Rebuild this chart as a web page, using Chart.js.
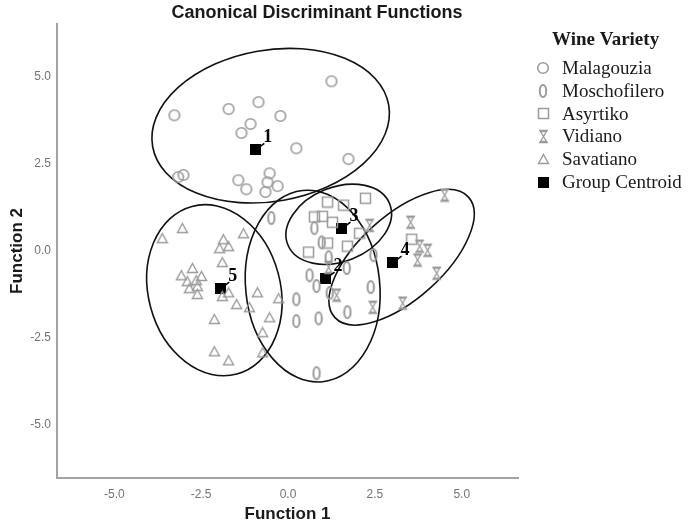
<!DOCTYPE html>
<html>
<head>
<meta charset="utf-8">
<script src="https://cdn.jsdelivr.net/npm/chart.js@4/dist/chart.umd.min.js"></script>
<style>
  html, body { margin: 0; padding: 0; background: #fff; }
  #wrap { width: 688px; height: 528px; }
</style>
</head>
<body>
<div id="wrap"><canvas id="cdf" width="688" height="528"></canvas></div>
<script>
'use strict';

/* ── data (function 1, function 2) ─────────── */
const seriesNames = ['Malagouzia', 'Moschofilero', 'Asyrtiko', 'Vidiano', 'Savatiano', 'Group Centroid'];

const malagouzia = [
  [-3.27, 3.90], [-1.71, 4.08], [-0.85, 4.28], [-0.22, 3.88], [1.25, 4.88],
  [-1.08, 3.65], [-1.34, 3.39], [0.24, 2.95], [1.74, 2.64], [-3.16, 2.12],
  [-3.01, 2.18], [-1.43, 2.03], [-1.20, 1.77], [-0.53, 2.23], [-0.59, 1.97],
  [-0.30, 1.86], [-0.65, 1.69],
];
const moschofilero = [
  [-0.48, 0.94], [0.76, 0.65], [0.97, 0.24], [1.17, -0.19], [0.62, -0.71],
  [0.82, -1.02], [1.69, -0.50], [1.20, -1.22], [0.24, -1.40], [0.24, -2.03],
  [0.88, -1.95], [1.71, -1.77], [2.38, -1.05], [2.46, -0.13], [0.82, -3.53],
];
const asyrtiko = [
  [2.23, 1.51], [1.14, 1.40], [1.60, 1.31], [0.76, 0.97], [0.99, 0.99],
  [1.28, 0.82], [2.06, 0.50], [1.14, 0.22], [1.71, 0.13], [0.59, -0.04],
  [3.56, 0.33],
];
const vidiano = [
  [4.51, 1.60], [3.53, 0.82], [2.35, 0.73], [3.79, 0.13], [4.02, 0.01],
  [3.73, -0.27], [4.28, -0.65], [3.30, -1.51], [2.44, -1.63], [1.40, -1.28],
  [1.17, -0.48],
];
const savatiano = [
  [-3.04, 0.65], [-3.62, 0.36], [-1.28, 0.50], [-1.86, 0.33], [-1.97, 0.07],
  [-1.71, 0.13], [-1.89, -0.33], [-2.75, -0.50], [-3.07, -0.71], [-2.49, -0.73],
  [-2.90, -0.88], [-2.64, -0.85], [-2.61, -1.02], [-2.84, -1.08], [-2.61, -1.25],
  [-1.89, -1.31], [-1.71, -1.20], [-0.88, -1.20], [-1.48, -1.54], [-1.11, -1.63],
  [-2.12, -1.97], [-0.53, -1.92], [-0.27, -1.37], [-0.73, -2.35], [-2.12, -2.90],
  [-1.71, -3.16], [-0.73, -2.93],
];
const centroids      = [[-0.94, 2.92], [1.08, -0.79], [1.54, 0.65], [3.01, -0.33], [-1.95, -1.08]];
const centroidLabels = ['1', '2', '3', '4', '5'];

// group ellipses: centre, semi-axes (function units), tilt in degrees
const ellipseCx    = [-0.50, 0.71, 1.46, 3.27, -2.12];
const ellipseCy    = [3.60, -1.02, 0.76, -0.19, -1.14];
const ellipseA     = [3.45, 2.77, 1.58, 2.59, 2.50];
const ellipseB     = [2.18, 1.93, 1.07, 1.21, 1.90];
const ellipseAngle = [10, 96, 22, 42, 105];

const xTicks = [-5, -2.5, 0, 2.5, 5];
const yTicks = [-5, -2.5, 0, 2.5, 5];

/* ── symbols ───────────────────────────────── */
const GREY = '#9b9b9b';
function makeSymbol(w, h, draw) {
  const c = document.createElement('canvas');
  c.width = w; c.height = h;
  const g = c.getContext('2d');
  g.strokeStyle = GREY; g.fillStyle = GREY; g.lineWidth = 1.5;
  draw(g, w, h);
  return c;
}
const symCircle = makeSymbol(14, 14, g => { g.lineWidth = 1.6; g.beginPath(); g.arc(7, 7, 5.3, 0, Math.PI * 2); g.stroke(); });
const symZero   = makeSymbol(10, 16, g => { g.lineWidth = 2; g.beginPath(); g.ellipse(5, 8, 3.2, 6, 0, 0, Math.PI * 2); g.stroke(); });
const symSquare = makeSymbol(13, 13, g => { g.strokeRect(1.5, 1.5, 10, 10); });
const symHour   = makeSymbol(11, 15, g => {
  g.lineWidth = 1.3;
  g.beginPath();
  g.moveTo(1, 1.5); g.lineTo(10, 1.5);
  g.moveTo(1, 13.5); g.lineTo(10, 13.5);
  g.moveTo(2.5, 2.5); g.lineTo(8.5, 2.5); g.lineTo(5.5, 7.5); g.closePath();
  g.moveTo(2.5, 12.5); g.lineTo(8.5, 12.5); g.lineTo(5.5, 7.5); g.closePath();
  g.stroke();
});
const symTri    = makeSymbol(13, 12, g => {
  g.lineWidth = 1.4;
  g.beginPath(); g.moveTo(6.5, 1.5); g.lineTo(11.5, 10.5); g.lineTo(1.5, 10.5); g.closePath(); g.stroke();
});
const symCentroid = makeSymbol(11, 11, g => { g.fillStyle = '#000'; g.fillRect(0, 0, 11, 11); });

const toXY = arr => arr.map(p => ({ x: p[0], y: p[1] }));

/* ── plugins ───────────────────────────────── */
const ellipsePlugin = {
  id: 'groupEllipses',
  beforeDatasetsDraw(chart) {
    const { ctx, scales: { x: xs, y: ys } } = chart;
    const kx = xs.getPixelForValue(1) - xs.getPixelForValue(0);
    const ky = ys.getPixelForValue(0) - ys.getPixelForValue(1);
    ellipseCx.forEach((cx, i) => {
      ctx.save();
      ctx.translate(xs.getPixelForValue(cx), ys.getPixelForValue(ellipseCy[i]));
      ctx.scale(kx, -ky);
      ctx.rotate(ellipseAngle[i] * Math.PI / 180);
      ctx.beginPath();
      ctx.ellipse(0, 0, ellipseA[i], ellipseB[i], 0, 0, Math.PI * 2);
      ctx.restore();
      ctx.save();
      ctx.lineWidth = 1.6;
      ctx.strokeStyle = '#111';
      ctx.stroke();
      ctx.restore();
    });
  },
};

const centroidLabelPlugin = {
  id: 'centroidLabels',
  afterDatasetsDraw(chart) {
    const { ctx } = chart;
    const meta = chart.getDatasetMeta(5);
    ctx.save();
    ctx.strokeStyle = '#000';
    ctx.lineWidth = 1.5;
    ctx.fillStyle = '#000';
    ctx.font = 'bold 18px "Liberation Serif", serif';
    ctx.textAlign = 'left';
    ctx.textBaseline = 'middle';
    meta.data.forEach((pt, i) => {
      ctx.beginPath();
      ctx.moveTo(pt.x + 5, pt.y - 3);
      ctx.lineTo(pt.x + 9, pt.y - 6);
      ctx.stroke();
      ctx.fillText(centroidLabels[i], pt.x + 8, pt.y - 12);
    });
    ctx.restore();
  },
};

const sideLegendPlugin = {
  id: 'sideLegend',
  afterDraw(chart) {
    const { ctx } = chart;
    ctx.save();
    ctx.fillStyle = '#1a1a1a';
    ctx.textBaseline = 'middle';
    ctx.textAlign = 'left';
    ctx.font = 'bold 19px "Liberation Serif", serif';
    ctx.fillText('Wine Variety', 552, 40);
    ctx.font = '19px "Liberation Serif", serif';
    chart.data.datasets.forEach((ds, i) => {
      const y = 68 + i * 22.8;
      const s = ds.pointStyle;
      ctx.drawImage(s, Math.round(543 - s.width / 2), Math.round(y - s.height / 2));
      ctx.fillText(ds.label, 562, y + 1);
    });
    ctx.restore();
  },
};

const topTitlePlugin = {
  id: 'topTitle',
  afterDraw(chart) {
    const { ctx } = chart;
    ctx.save();
    ctx.fillStyle = '#1a1a1a';
    ctx.font = 'bold 18px "Liberation Sans", Arial, sans-serif';
    ctx.textAlign = 'center';
    ctx.textBaseline = 'middle';
    ctx.fillText('Canonical Discriminant Functions', 317, 13);
    ctx.restore();
  },
};

/* ── chart ─────────────────────────────────── */
const pointSets = [malagouzia, moschofilero, asyrtiko, vidiano, savatiano, centroids];
const pointSyms = [symCircle, symZero, symSquare, symHour, symTri, symCentroid];

const datasets = pointSets.map((set, i) => ({
  label: seriesNames[i],
  data: toXY(set),
  pointStyle: pointSyms[i],
  pointRadius: 6,
  pointHoverRadius: 6,
  showLine: false,
}));

const axisCommon = {
  type: 'linear',
  grid: { display: false, drawTicks: false },
  border: { display: true, color: '#a3a3a3', width: 2 },
  ticks: {
    color: '#737373',
    font: { family: '"Liberation Sans", Arial, sans-serif', size: 12 },
    callback: v => Number(v).toFixed(1),
  },
};

new Chart(document.getElementById('cdf').getContext('2d'), {
  type: 'scatter',
  data: { datasets },
  options: {
    responsive: false,
    animation: false,
    layout: { padding: { left: 0, top: 24, right: 170, bottom: 0 } },
    plugins: { legend: { display: false }, title: { display: false }, tooltip: { enabled: false } },
    scales: {
      x: {
        ...axisCommon,
        min: -6.65, max: 6.62,
        ticks: { ...axisCommon.ticks, padding: 9, maxRotation: 0 },
        afterBuildTicks: s => { s.ticks = xTicks.map(v => ({ value: v })); },
        afterFit: s => { s.height = 50; },
        title: {
          display: true, text: 'Function 1', color: '#1a1a1a',
          font: { family: '"Liberation Sans", Arial, sans-serif', size: 17, weight: 'bold' },
          padding: { top: 0, bottom: 3 },
        },
      },
      y: {
        ...axisCommon,
        min: -6.55, max: 6.53,
        ticks: { ...axisCommon.ticks, padding: 6 },
        afterBuildTicks: s => { s.ticks = yTicks.map(v => ({ value: v })); },
        afterFit: s => { s.width = 57; },
        title: {
          display: true, text: 'Function 2', color: '#1a1a1a',
          font: { family: '"Liberation Sans", Arial, sans-serif', size: 17, weight: 'bold' },
          padding: { top: 7, bottom: 0 },
        },
      },
    },
  },
  plugins: [ellipsePlugin, centroidLabelPlugin, sideLegendPlugin, topTitlePlugin],
});
</script>
</body>
</html>
